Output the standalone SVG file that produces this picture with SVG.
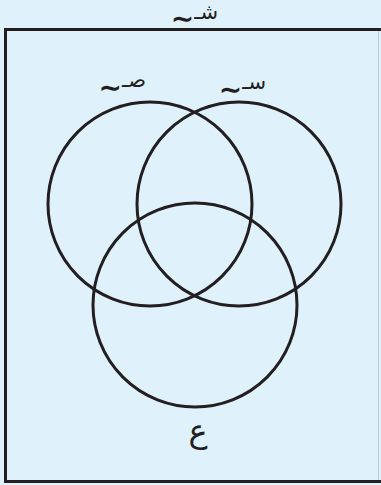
<svg xmlns="http://www.w3.org/2000/svg" width="381" height="485" viewBox="0 0 381 485">
<style>
.ln{stroke:#231f20;stroke-width:3;fill:none}
.c{stroke:#231f20;stroke-width:3;fill:none}
.lb{font-family:"DejaVu Sans",sans-serif;fill:#231f20}
.tl{font-size:28px;font-weight:bold}
.ar{font-size:21px}
</style>
<rect x="0" y="0" width="381" height="485" fill="#dff1fb"/>
<g id="frame">
<line x1="378.5" y1="30" x2="378.5" y2="481" stroke="#b9c9d2" stroke-width="1"/>
<path class="ln" d="M381 29.5 H5.5 V481.5 H381"/>
</g>
<g id="set-A">
<circle class="c" cx="150" cy="204" r="102"/>
<text class="lb" x="146" y="97" text-anchor="end"><tspan class="tl">∼</tspan><tspan class="ar" dy="-10.5">صـ</tspan></text>
</g>
<g id="set-B">
<circle class="c" cx="239" cy="204" r="102"/>
<text class="lb" x="266" y="99" text-anchor="end"><tspan class="tl">∼</tspan><tspan class="ar" dy="-10">سـ</tspan></text>
</g>
<g id="set-C">
<circle class="c" cx="195" cy="305" r="102"/>
<text class="lb" x="198" y="442" font-size="32" text-anchor="middle">ع</text>
</g>
<g id="universal">
<text class="lb" x="218" y="28" text-anchor="end"><tspan class="tl">∼</tspan><tspan class="ar" font-size="18" dy="-9.5">شـ</tspan></text>
</g>
<g id="connectors"/>
</svg>
